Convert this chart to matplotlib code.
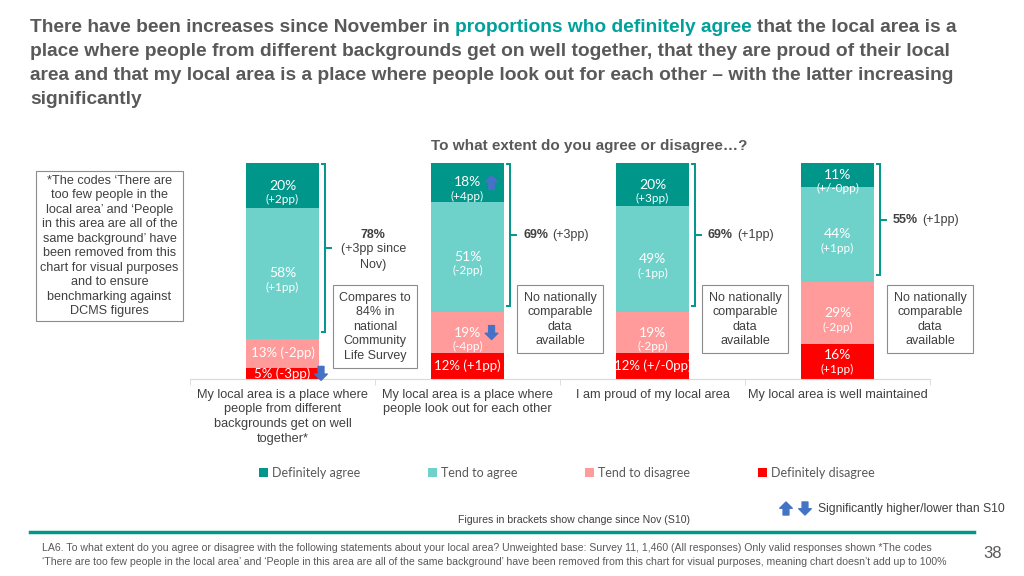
import matplotlib.pyplot as plt
import matplotlib.transforms as transforms
from matplotlib.text import OffsetFrom
from matplotlib.patches import FancyArrowPatch
import numpy as np

categories = ['My local area is a place where\npeople from different\nbackgrounds get on well\ntogether*',
              'My local area is a place where\npeople look out for each other',
              'I am proud of my local area',
              'My local area is well maintained']

definitely_agree = np.array([20, 18, 20, 11])
tend_agree = np.array([58, 51, 49, 44])
tend_disagree = np.array([13, 19, 19, 29])
definitely_disagree = np.array([5, 12, 12, 16])

definitely_agree_change = ['(+2pp)', '(+4pp)', '(+3pp)', '(+/-0pp)']
tend_agree_change = ['(+1pp)', '(-2pp)', '(-1pp)', '(+1pp)']
tend_disagree_change = ['(-2pp)', '(-4pp)', '(-2pp)', '(-2pp)']
definitely_disagree_change = ['(-3pp)', '(+1pp)', '(+/-0pp)', '(+1pp)']

net_agree = [78, 69, 69, 55]
net_agree_change = ['(+3pp since\nNov)', '(+3pp)', '(+1pp)', '(+1pp)']

# significant vs S10: (bar, series, direction)
significant = [(1, 'Definitely agree', 'up'),
               (1, 'Tend to disagree', 'down'),
               (0, 'Definitely disagree', 'down')]

benchmarks = ['Compares to\n84% in\nnational\nCommunity\nLife Survey',
              'No nationally\ncomparable\ndata\navailable',
              'No nationally\ncomparable\ndata\navailable',
              'No nationally\ncomparable\ndata\navailable']

# labels squeezed onto one line (small segments)
inline = {(0, 'Tend to disagree'), (0, 'Definitely disagree'),
          (1, 'Definitely disagree'), (2, 'Definitely disagree')}

TEAL = '#00968A'
BLUE = '#4472C4'
GREY = '#595959'
DARK = '#404040'
ARIAL = 'Liberation Sans'
CALIBRI = 'Lato'
ARROW = 'simple,head_length=0.45,head_width=0.9,tail_width=0.42'

series = [('Definitely disagree', definitely_disagree, definitely_disagree_change, '#FF0000'),
          ('Tend to disagree', tend_disagree, tend_disagree_change, '#FF9B9B'),
          ('Tend to agree', tend_agree, tend_agree_change, '#6FD2CA'),
          ('Definitely agree', definitely_agree, definitely_agree_change, TEAL)]

total = definitely_agree + tend_agree + tend_disagree + definitely_disagree

fig = plt.figure(figsize=(10.24, 5.76), dpi=100)
ax = fig.add_axes([190/1024, 1 - 379/576, 740/1024, 216/576])
x = np.arange(len(categories))

below = transforms.offset_copy(ax.transData, fig=fig, y=-14, units='dots')
min_y = 24 / 216  # keep two-line labels above the axis


def sig_arrow(anchor, direction, dx=7.5):
    base = OffsetFrom(anchor, (1, 0.5))
    lo, hi = (dx, -5), (dx, 5)
    tail, head = (lo, hi) if direction == 'up' else (hi, lo)
    ax.annotate('', xy=head, xycoords=base, xytext=tail, textcoords=base,
                annotation_clip=False,
                arrowprops=dict(arrowstyle=ARROW, color=BLUE, shrinkA=0, shrinkB=0))


bottom = np.zeros(len(x))
handles = {}
for name, vals, changes, col in series:
    share = vals / total
    handles[name] = ax.bar(x, share, 0.395, bottom=bottom, color=col, label=name)
    for i in range(len(x)):
        yc = bottom[i] + share[i] / 2
        if (i, name) in inline:
            main = ax.text(x[i], yc, f'{vals[i]}% {changes[i]}', ha='center', va='center',
                           color='white', fontsize=9.5, family=CALIBRI)
        else:
            yc = max(yc, min_y)
            main = ax.text(x[i], yc, f'{vals[i]}%', ha='center', va='center',
                           color='white', fontsize=10, family=CALIBRI)
            ax.text(x[i], yc, changes[i], ha='center', va='center', transform=below,
                    color='white', fontsize=8.5, family=CALIBRI)
        for b, s, d in significant:
            if b == i and s == name:
                sig_arrow(main, d)
    bottom += share

# brackets for net agree
disagree_share = (tend_disagree + definitely_disagree) / total
for i in range(len(x)):
    top = 0.995
    bot = disagree_share[i] + 0.03
    bx = i + 0.23
    ax.plot([bx - 0.016, bx, bx, bx - 0.016], [top, top, bot, bot], color=TEAL, lw=1.4,
            clip_on=False, solid_joinstyle='miter')
    mid = (top + bot) / 2
    ax.plot([bx, bx + 0.03], [mid, mid], color=TEAL, lw=1.4, clip_on=False)
    if '\n' in net_agree_change[i]:
        up = transforms.offset_copy(ax.transData, fig=fig, y=13, units='dots')
        dn = transforms.offset_copy(ax.transData, fig=fig, y=-9, units='dots')
        ax.text(i + 0.49, mid, f'{net_agree[i]}%', transform=up, ha='center', va='center',
                fontsize=9, fontweight='bold', color=DARK, family=ARIAL)
        ax.text(i + 0.49, mid, net_agree_change[i], transform=dn, ha='center', va='center',
                fontsize=9, color=DARK, family=ARIAL, linespacing=1.35)
    else:
        v = ax.text(i + 0.30, mid, f'{net_agree[i]}%', ha='left', va='center',
                    fontsize=9, fontweight='bold', color=DARK, family=ARIAL)
        ax.annotate(net_agree_change[i], xy=(1, 0.5), xycoords=v, xytext=(3, 0),
                    textcoords='offset points', ha='left', va='center',
                    fontsize=9, color=DARK, family=ARIAL)

# benchmark boxes
for i, txt in enumerate(benchmarks):
    ax.text(i + 0.5, 0.405, txt, ha='center', va='top', fontsize=9, color=DARK,
            family=ARIAL, linespacing=1.28,
            bbox=dict(boxstyle='square,pad=0.5', fc='white', ec='#8C8C8C', lw=0.8))

ax.set_xlim(-0.5, 3.5)
ax.set_ylim(0, 1)
for s in ['top', 'left', 'right']:
    ax.spines[s].set_visible(False)
ax.spines['bottom'].set_color('#D9D9D9')
ax.set_yticks([])
ax.set_xticks(x)
ax.set_xticklabels(categories, fontsize=9.2, color=DARK, family=ARIAL, linespacing=1.3)
ax.tick_params(axis='x', length=0, pad=7)
ax.set_xticks(np.arange(-0.5, 4, 1), minor=True)
ax.tick_params(axis='x', which='minor', length=4, color='#D9D9D9')

leg_order = ['Definitely agree', 'Tend to agree', 'Tend to disagree', 'Definitely disagree']
ax.legend([handles[n] for n in leg_order], leg_order, loc='center',
          bbox_to_anchor=(567/1024, 1 - 473/576), bbox_transform=fig.transFigure,
          ncol=4, frameon=False, handlelength=0.7, handleheight=0.7, handletextpad=0.35,
          columnspacing=5.4, prop={'family': CALIBRI, 'size': 9}, labelcolor=GREY)

# title
TS = 13.8
tprops = dict(fontsize=TS, fontweight='bold', family=ARIAL, va='center', ha='left')
t1 = fig.text(30/1024, 1 - 28/576, 'There have been increases since November in', color=GREY, **tprops)
t2 = ax.annotate('proportions who definitely agree', xy=(1, 0), xycoords=t1, xytext=(3.8, 0),
                 textcoords='offset points', color='#00A19A', annotation_clip=False,
                 fontsize=TS, fontweight='bold', family=ARIAL, va='bottom', ha='left')
ax.annotate('that the local area is a', xy=(1, 0), xycoords=t2, xytext=(3.8, 0),
            textcoords='offset points', color=GREY, annotation_clip=False,
            fontsize=TS, fontweight='bold', family=ARIAL, va='bottom', ha='left')
rest = ['place where people from different backgrounds get on well together, that they are proud of their local',
        'area and that my local area is a place where people look out for each other \u2013 with the latter increasing',
        'significantly']
for k, line in enumerate(rest):
    fig.text(30/1024, 1 - (52 + 23.7*k)/576, line, color=GREY, **tprops)

fig.text(589/1024, 1 - 146/576, 'To what extent do you agree or disagree\u2026?', ha='center', va='center',
         fontsize=11, fontweight='bold', color=GREY, family=ARIAL)

# left note box
fig.text(109.5/1024, 1 - 246/576,
         '*The codes \u2018There are\ntoo few people in the\nlocal area\u2019 and \u2018People\n'
         'in this area are all of the\nsame background\u2019 have\nbeen removed from this\n'
         'chart for visual purposes\nand to ensure\nbenchmarking against\nDCMS figures',
         ha='center', va='center', fontsize=9.1, color=DARK, family=ARIAL, linespacing=1.27,
         bbox=dict(boxstyle='square,pad=0.35', fc='white', ec='#8C8C8C', lw=0.8))

# significance key
for px, d in [(786, 'up'), (805, 'down')]:
    a, b = (px, 61), (px, 74)
    tail, head = (a, b) if d == 'up' else (b, a)
    fig.add_artist(FancyArrowPatch(tail, head, transform=None, arrowstyle=ARROW,
                                   mutation_scale=10, color=BLUE, shrinkA=0, shrinkB=0))
fig.text(818/1024, 1 - 509/576, 'Significantly higher/lower than S10', ha='left', va='center',
         fontsize=8.75, color=DARK, family=ARIAL)
fig.text(574/1024, 1 - 520/576, 'Figures in brackets show change since Nov (S10)', ha='center', va='center',
         fontsize=7.6, color=DARK, family=ARIAL)

fig.add_artist(plt.Line2D([30/1024, 974/1024], [1 - 532/576, 1 - 532/576], color=TEAL, lw=2.5))

fig.text(42/1024, 1 - 548/576,
         'LA6. To what extent do you agree or disagree with the following statements about your local area? '
         'Unweighted base: Survey 11, 1,460 (All responses) Only valid responses shown *The codes',
         ha='left', va='center', fontsize=7.6, color=GREY, family=ARIAL)
fig.text(42/1024, 1 - 562/576,
         '\u2018There are too few people in the local area\u2019 and \u2018People in this area are all of the same '
         'background\u2019 have been removed from this chart for visual purposes, meaning chart doesn\u2019t add up to 100%',
         ha='left', va='center', fontsize=7.6, color=GREY, family=ARIAL)
fig.text(993/1024, 1 - 554/576, '38', ha='center', va='center', fontsize=12, color=GREY, family=ARIAL)

fig.savefig('out.png', dpi=100)
